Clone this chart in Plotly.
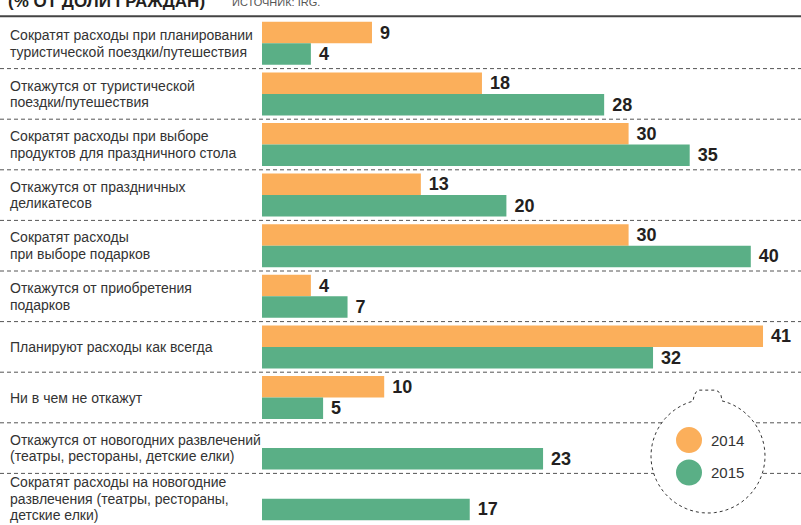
import numpy as np
import plotly.graph_objects as go

categories = [
    "Сократят расходы при планировании<br>туристической поездки/путешествия",
    "Откажутся от туристической<br>поездки/путешествия",
    "Сократят расходы при выборе<br>продуктов для праздничного стола",
    "Откажутся от праздничных<br>деликатесов",
    "Сократят расходы<br>при выборе подарков",
    "Откажутся от приобретения<br>подарков",
    "Планируют расходы как всегда",
    "Ни в чем не откажут",
    "Откажутся от новогодних развлечений<br>(театры, рестораны, детские елки)",
    "Сократят расходы на новогодние<br>развлечения (театры, рестораны,<br>детские елки)",
]
values_2014 = [9, 18, 30, 13, 30, 4, 41, 10, None, None]
values_2015 = [4, 28, 35, 20, 40, 7, 32, 5, 23, 17]
series_names = ["2014", "2015"]
title_text = "(% ОТ ДОЛИ ГРАЖДАН)"
source_text = "ИСТОЧНИК: IRG."

ORANGE = "#FBAF5B"
GREEN = "#5AAF86"
FONT = "Liberation Sans, Arial, sans-serif"
W, H = 801, 525
ML, MR, MT, MB = 262, 0, 17.5, 1
PW, PH = W - ML - MR, H - MT - MB
X_MAX = PW / 12.22

def px(x):
    return (x - ML) / PW

def py(y):
    return (H - MB - y) / PH

keys = list(range(len(categories)))
fig = go.Figure()
val_font = dict(family=FONT, size=18, color="#231F20")
for name, vals, col in [(series_names[0], values_2014, ORANGE), (series_names[1], values_2015, GREEN)]:
    fig.add_trace(go.Bar(
        y=keys, x=vals, name=name, orientation="h", marker=dict(color=col, line=dict(width=0)),
        text=[("<b> " + str(v) + "</b>") if v is not None else "" for v in vals],
        textposition="outside", textfont=val_font, cliponaxis=False,
        hoverinfo="skip",
    ))

shapes = []
for i in range(len(categories) - 1):
    shapes.append(dict(type="line", xref="paper", yref="y", x0=px(0), x1=px(W), y0=i + 0.5, y1=i + 0.5,
                       line=dict(color="#555555", width=1, dash="4px,3px"), layer="above"))
shapes.append(dict(type="line", xref="paper", yref="paper", x0=px(0), x1=px(W), y0=py(15.7), y1=py(15.7),
                   line=dict(color="#444444", width=2), layer="above"))

# ornament (Christmas ball outline)
cx, cy, r = 708, 456, 57
a_r = np.degrees(np.arcsin(14 / r)) - 90
a_l = -90 - np.degrees(np.arcsin(15 / r)) + 360
ang = np.radians(np.linspace(a_r, a_l, 80))
pts = [(cx + r * np.cos(a), cy + r * np.sin(a)) for a in ang]
pts += [(694, 396), (696, 392), (699, 390), (716, 390), (719, 392), (721, 395)]
path = "M " + " L ".join(f"{px(x):.5f},{py(y):.5f}" for x, y in pts) + " Z"
shapes.append(dict(type="path", xref="paper", yref="paper", path=path, fillcolor="white",
                   line=dict(color="#333333", width=1, dash="3px,3px"), layer="above"))
for (lx, ly), col in [((689, 440), ORANGE), ((689, 472.5), GREEN)]:
    rr = 13
    shapes.append(dict(type="circle", xref="paper", yref="paper", x0=px(lx - rr), x1=px(lx + rr),
                       y0=py(ly + rr), y1=py(ly - rr), fillcolor=col, line=dict(width=0), layer="above"))

annotations = []
lab_font = dict(family=FONT, size=14, color="#333333")
LS = 16.5
for i, c in enumerate(categories):
    lines = c.split("<br>")
    n = len(lines)
    for j, ln in enumerate(lines):
        annotations.append(dict(xref="paper", yref="y", x=px(8), y=i, text=ln, showarrow=False,
                                xanchor="left", yanchor="middle", align="left", font=lab_font,
                                yshift=-((j - (n - 1) / 2) * LS)))
for (lx, ly), nm in [((709, 440), series_names[0]), ((709, 472.5), series_names[1])]:
    annotations.append(dict(xref="paper", yref="paper", x=px(lx), y=py(ly), text=nm, showarrow=False,
                            xanchor="left", yanchor="middle", font=dict(family=FONT, size=15, color="#333333")))
annotations.append(dict(xref="paper", yref="paper", x=px(6), y=py(1), text="<b>" + title_text + "</b>",
                        showarrow=False, xanchor="left", yanchor="middle",
                        font=dict(family=FONT, size=17, color="#231F20")))
annotations.append(dict(xref="paper", yref="paper", x=px(230), y=py(1.5), text=source_text,
                        showarrow=False, xanchor="left", yanchor="middle",
                        font=dict(family=FONT, size=11, color="#555555")))

fig.update_layout(
    width=W, height=H, margin=dict(l=ML, r=MR, t=MT, b=MB, pad=0),
    paper_bgcolor="white", plot_bgcolor="white",
    barmode="group", bargap=0.15, bargroupgap=0.0,
    showlegend=False,
    xaxis=dict(range=[0, X_MAX], visible=False, fixedrange=True),
    yaxis=dict(range=[len(categories) - 0.5, -0.5], visible=False, fixedrange=True),
    shapes=shapes, annotations=annotations,
)
fig.write_html("out.html", config={"displayModeBar": False},
               post_script="document.body.style.margin='0';document.body.style.overflow='hidden';")
